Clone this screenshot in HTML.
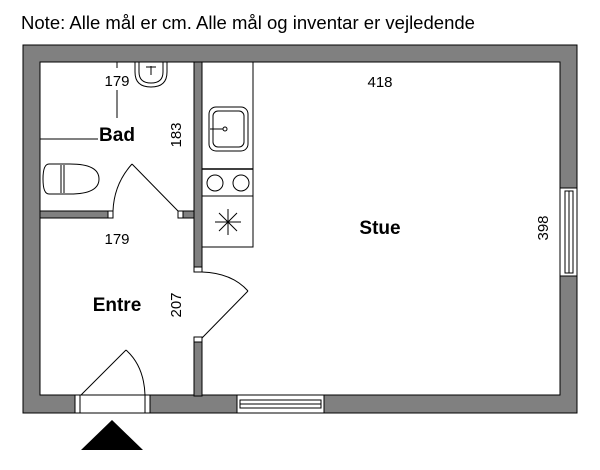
<!DOCTYPE html>
<html><head><meta charset="utf-8"><style>
html,body{margin:0;padding:0;background:#fff;}
svg{display:block;}
text{font-family:"Liberation Sans",sans-serif;fill:#000;}
</style></head><body>
<svg width="600" height="470" viewBox="0 0 600 470" xmlns="http://www.w3.org/2000/svg">
<rect width="600" height="470" fill="#fff"/>
<text x="21" y="29" font-size="18" textLength="454" lengthAdjust="spacingAndGlyphs">Note: Alle mål er cm. Alle mål og inventar er vejledende</text>

<g fill="#808080" stroke="#000" stroke-width="1">
<path d="M23,45 H577 V413 H150 V395 H560 V62 H40 V395 H75 V413 H23 Z" fill-rule="evenodd"/>
<rect x="194" y="62" width="8" height="205"/>
<rect x="194" y="342" width="8" height="54"/>
<rect x="40" y="211" width="68" height="7"/>
<rect x="183" y="211" width="11" height="7"/>
</g>
<rect x="195" y="63" width="6" height="203" fill="#808080"/>

<g fill="#fff" stroke="#000" stroke-width="1">
<rect x="108" y="211" width="5" height="7"/>
<rect x="178" y="211" width="5" height="7"/>
<rect x="194" y="267" width="8" height="5"/>
<rect x="194" y="337" width="8" height="5"/>
<rect x="75" y="395" width="5" height="18"/>
<rect x="145" y="395" width="5" height="18"/>
<rect x="80" y="395" width="65" height="18"/>
<rect x="237" y="395" width="87" height="18"/>
<rect x="240" y="400" width="81" height="4"/>
<rect x="240" y="404" width="81" height="4"/>
<rect x="560" y="188" width="17" height="88"/>
<rect x="565" y="191" width="4" height="82"/>
<rect x="569" y="191" width="4" height="82"/>
</g>

<g fill="none" stroke="#000" stroke-width="1">
<line x1="178" y1="211" x2="132" y2="164"/>
<path d="M132,164 Q114,184 113,211"/>
<line x1="202" y1="338" x2="248" y2="291"/>
<path d="M248,291 Q232,273 202,272"/>
<line x1="81" y1="395" x2="126" y2="350"/>
<path d="M126,350 Q144,366 145,395"/>
</g>
<polygon points="112,420 143,450 81,450" fill="#000"/>

<g fill="none" stroke="#000" stroke-width="1">
<rect x="202" y="62" width="51" height="185"/>
<line x1="202" y1="169" x2="253" y2="169" stroke-width="1.5"/>
<line x1="202" y1="196" x2="253" y2="196"/>
<rect x="209" y="107" width="39" height="44" rx="7"/>
<rect x="213" y="111" width="31" height="36" rx="5"/>
<line x1="210" y1="129" x2="223" y2="129"/>
<circle cx="225" cy="129" r="2"/>
<circle cx="215" cy="183" r="8"/>
<circle cx="241" cy="183" r="8"/>
<line x1="228" y1="209" x2="228" y2="235"/>
<line x1="215" y1="222" x2="241" y2="222"/>
<line x1="219" y1="213" x2="237" y2="231"/>
<line x1="237" y1="213" x2="219" y2="231"/>
<path d="M135,62 V72 Q135,87 151,87 Q167,87 167,72 V62"/>
<path d="M139,62 V72 Q139,83 151,83 Q163,83 163,72 V62"/>
<line x1="151" y1="66" x2="151" y2="75"/>
<line x1="146" y1="67" x2="156" y2="67"/>
<path d="M49,164 Q43,164 43,179 Q43,194 49,194 L70,194 Q99,194 99,179 Q99,164 70,164 Z"/>
<line x1="61" y1="165" x2="61" y2="193"/>
<line x1="64" y1="165" x2="64" y2="193"/>
<line x1="117" y1="62" x2="117" y2="68"/>
<line x1="117" y1="90" x2="117" y2="118"/>
<line x1="40" y1="139" x2="98" y2="139"/>
</g>

<text x="117" y="86" font-size="15" text-anchor="middle">179</text>
<text x="117" y="141" font-size="19" font-weight="bold" text-anchor="middle">Bad</text>
<text transform="translate(181,135) rotate(-90)" font-size="15" text-anchor="middle">183</text>
<text x="117" y="244" font-size="15" text-anchor="middle">179</text>
<text x="117" y="311" font-size="19" font-weight="bold" text-anchor="middle">Entre</text>
<text transform="translate(181,305) rotate(-90)" font-size="15" text-anchor="middle">207</text>
<text x="380" y="87" font-size="15" text-anchor="middle">418</text>
<text x="380" y="234" font-size="19" font-weight="bold" text-anchor="middle">Stue</text>
<text transform="translate(548,228) rotate(-90)" font-size="15" text-anchor="middle">398</text>
</svg>
</body></html>
